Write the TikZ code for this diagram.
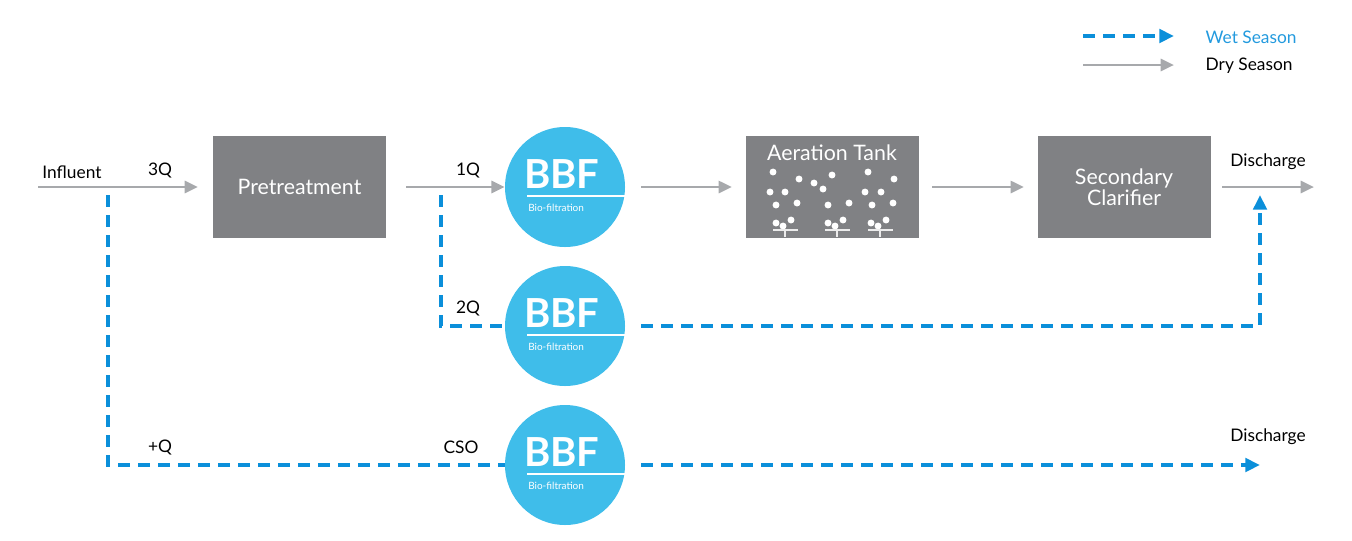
\documentclass[tikz,border=0pt]{standalone}
\usepackage{fontspec}
\setmainfont{Lato}
\usetikzlibrary{arrows.meta}
\definecolor{boxg}{HTML}{808184}
\definecolor{arrg}{HTML}{A7A9AC}
\definecolor{wet}{HTML}{0B8FDA}
\definecolor{bbf}{HTML}{3FBDEA}
\begin{document}
\begin{tikzpicture}[x=0.75pt,y=-0.75pt,
  box/.style={fill=boxg,draw=none,minimum width=129.75pt,minimum height=76.5pt,text=white,font=\fontsize{16}{18}\selectfont,align=center},
  dry/.style={draw=arrg,line width=2.2pt,-{Triangle[length=10pt,width=9pt]}},
  wetl/.style={draw=wet,line width=2.8pt,dash pattern=on 9pt off 6pt},
  weta/.style={wetl,-{Triangle[length=11pt,width=10pt]}},
  bbfc/.style={circle,fill=bbf,draw=none,minimum size=90pt,inner sep=0pt},
  lbl/.style={font=\fontsize{13}{15}\selectfont,text=black},
  dot/.style={fill=white,draw=none}]
\useasboundingbox (0,0) rectangle (1352,540);
% boxes
\node[box] (pre) at (299.5,187) {Pretreatment};
\node[box] (aer) at (832,187) {};
\node[box] (sec) at (1124,187) {Secondary\\[-2pt]Clarifier};
\node[text=white,font=\fontsize{16}{18}\selectfont] (aert) at (832,153) {Aeration Tank};
% BBF circles
\foreach \n/\y in {b1/187,b2/326,b3/465}{
  \node[bbfc] (\n) at (565,\y) {};
  \node[anchor=west,text=white,font=\fontsize{30}{30}\selectfont\bfseries,inner sep=0pt] at (524,\y-13) {BBF};
  \draw[white,line width=1pt] (527,\y+9) -- (625,\y+9);
  \node[anchor=west,text=white,font=\fontsize{7.5}{9}\selectfont,inner sep=0pt] at (528,\y+21) {Bio-filtration};
}
% bubbles
\foreach \px/\py in {773/172,799/179,814/183,832/175,823/189,770/192,785/192,776/205,797/203,828/205,849/203,868/172,894/179,865/192,881/192,872/205,893/203}
  \fill[dot] (\px,\py) circle (2.6pt);
\foreach \dx in {0,52,95}{
  \fill[dot] (776+\dx,223) circle (2.6pt) (783+\dx,226) circle (2.6pt) (791+\dx,220) circle (2.6pt);
  \draw[white!85!gray,line width=0.8pt] (773+\dx,230) -- (798+\dx,230) (785+\dx,230) -- (785+\dx,237);
}
% coordinates
\coordinate (in) at (38,187);
\coordinate (inE) at (198,187);
\coordinate (dis1) at (1314,187);
\coordinate (c1) at (1222,187);
\coordinate (t1) at (108,195);
\coordinate (t1b) at (108,465);
\coordinate (t2) at (441,195);
\coordinate (t2b) at (441,326);
\coordinate (up) at (1260,326);
\coordinate (upE) at (1260,195);
\coordinate (dis2) at (1260,465);
% dry arrows
\draw[dry] (in) -- (inE);
\draw[dry] (pre.east)++(15pt,0) -- (b1.west);
\draw[dry] (b1.east)++(12pt,0) -- ([xshift=-10pt]aer.west);
\draw[dry] (aer.east)++(10pt,0) -- ([xshift=-10pt]sec.west);
\draw[dry] (c1) -- (dis1);
% wet
\draw[wetl] (t2) -- (t2b) -- (b2.west);
\draw[weta] (b2.east)++(12pt,0) -- (up) -- (upE);
\draw[wetl] (t1) -- (t1b) -- (b3.west);
\draw[weta] (b3.east)++(12pt,0) -- (dis2);
% labels
\node[lbl] (linf) at (72,172) {Influent};
\node[lbl] (l3q) at (160,170) {3Q};
\node[lbl] (l1q) at (468,170) {1Q};
\node[lbl] (l2q) at (468,308) {2Q};
\node[lbl] (lpq) at (160,447) {+Q};
\node[lbl] (lcso) at (461,447) {CSO};
\node[lbl] (ld1) at (1268,162) {Discharge};
\node[lbl] (ld2) at (1268,437) {Discharge};
% legend
\coordinate (lw1) at (1083,36); \coordinate (lw2) at (1174,36);
\coordinate (ld1a) at (1083,65); \coordinate (ld1b) at (1174,65);
\draw[weta] (lw1) -- (lw2);
\draw[dry] (ld1a) -- (ld1b);
\node[anchor=west,font=\fontsize{13}{15}\selectfont,text=wet!90!white] (lwet) at (1201,37) {Wet Season};
\node[anchor=west,lbl] (ldry) at (1201,66) {Dry Season};
\end{tikzpicture}
\end{document}
